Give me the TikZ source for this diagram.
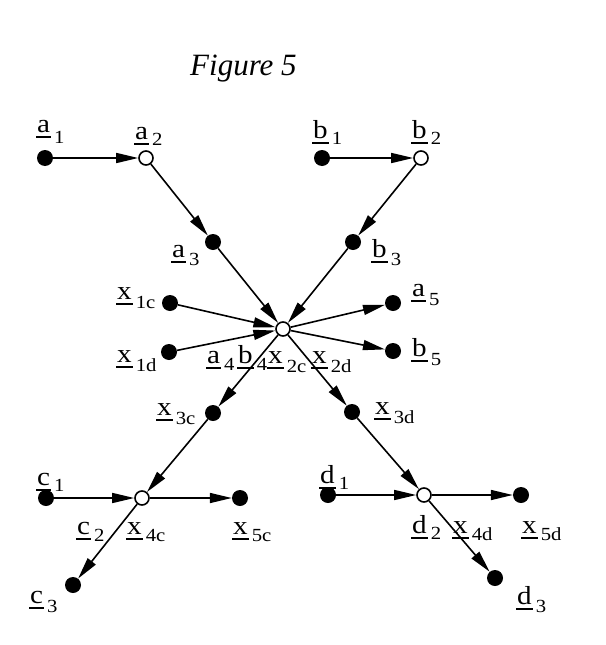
\documentclass[tikz,border=0pt]{standalone}
\usepackage{fontspec}
\setmainfont{Liberation Serif}
\newfontfamily\labfont[FakeStretch=1.12]{Liberation Serif}
\usetikzlibrary{arrows.meta}
\newsavebox\ulbox
\newcommand\ulx[1]{\sbox\ulbox{#1}\kern-1pt\rlap{\rule[-5.5pt]{\dimexpr\wd\ulbox+2pt\relax}{1.5pt}}\kern1pt\usebox\ulbox}
% \lbl[lowering]{letter}{subscript}
\newcommand\lbl[3][8pt]{\ulx{#2}\kern4pt\raisebox{-#1}{\fontsize{18.5}{19}\selectfont #3}}
\begin{document}
\begin{tikzpicture}[x=1pt,y=-1pt,
  dot/.style={circle, fill=black, inner sep=0pt, minimum size=16pt},
  hub/.style={circle, draw, fill=white, line width=1.6pt, inner sep=0pt, minimum size=14pt},
  arr/.style={line width=1.6pt, -{Triangle[length=22pt,width=10pt]}},
  lab/.style={anchor=base west, inner sep=0pt, font=\labfont\fontsize{26}{27}\selectfont}]
\useasboundingbox (0,0) rectangle (605,645);
\node[anchor=base west, inner sep=0pt, font=\fontsize{31}{32}\selectfont\itshape] (title) at (190,75) {Figure 5};
% nodes
\node[dot] (A1) at (45,158) {};
\node[hub] (A2) at (146,158) {};
\node[dot] (B1) at (322,158) {};
\node[hub] (B2) at (421,158) {};
\node[dot] (A3) at (213,242) {};
\node[dot] (B3) at (353,242) {};
\node[hub] (C) at (283,329) {};
\node[dot] (X1c) at (170,303) {};
\node[dot] (X1d) at (169,352) {};
\node[dot] (A5) at (393,303) {};
\node[dot] (B5) at (393,351) {};
\node[dot] (X3c) at (213,413) {};
\node[dot] (X3d) at (352,412) {};
\node[dot] (C1) at (46,498) {};
\node[hub] (Cn) at (142,498) {};
\node[dot] (X5c) at (240,498) {};
\node[dot] (C3) at (73,585) {};
\node[dot] (D1) at (328,495) {};
\node[hub] (Dn) at (424,495) {};
\node[dot] (X5d) at (521,495) {};
\node[dot] (D3) at (495,578) {};
% edges
\draw[arr] (A1) -- (A2);
\draw[arr] (A2) -- (A3);
\draw[arr] (A3) -- (C);
\draw[arr] (B1) -- (B2);
\draw[arr] (B2) -- (B3);
\draw[arr] (B3) -- (C);
\draw[arr] (X1c) -- (C);
\draw[arr] (X1d) -- (C);
\draw[arr] (C) -- (A5);
\draw[arr] (C) -- (B5);
\draw[arr] (C) -- (X3c);
\draw[arr] (X3c) -- (Cn);
\draw[arr] (C) -- (X3d);
\draw[arr] (X3d) -- (Dn);
\draw[arr] (C1) -- (Cn);
\draw[arr] (Cn) -- (X5c);
\draw[arr] (Cn) -- (C3);
\draw[arr] (D1) -- (Dn);
\draw[arr] (Dn) -- (X5d);
\draw[arr] (Dn) -- (D3);
% labels
\node[lab] (la1) at (37,132) {\lbl[11pt]{a}{1}};
\node[lab] (la2) at (135,139) {\lbl[6pt]{a}{2}};
\node[lab] (lb1) at (313,138) {\lbl[6pt]{b}{1}};
\node[lab] (lb2) at (412,138) {\lbl[6pt]{b}{2}};
\node[lab] (la3) at (172,257) {\lbl{a}{3}};
\node[lab] (lb3) at (372,257) {\lbl{b}{3}};
\node[lab] (lx1c) at (117,299) {\lbl[9pt]{x}{1c}};
\node[lab] (lx1d) at (117,362) {\lbl[9pt]{x}{1d}};
\node[lab] (la5) at (412,296) {\lbl[9pt]{a}{5}};
\node[lab] (lb5) at (412,356) {\lbl[9pt]{b}{5}};
\node[lab] (la4) at (207,363) {\lbl[7pt]{a}{4}};
\node[lab] (lb4) at (238,363) {\lbl[7pt]{b}{4}};
\node[lab] (lx2c) at (268,363) {\lbl[9pt]{x}{2c}};
\node[lab] (lx2d) at (312,363) {\lbl[9pt]{x}{2d}};
\node[lab] (lx3c) at (157,415) {\lbl[9pt]{x}{3c}};
\node[lab] (lx3d) at (375,414) {\lbl[9pt]{x}{3d}};
\node[lab] (lc1) at (37,485) {\lbl[6pt]{c}{1}};
\node[lab] (lc2) at (77,534) {\lbl[7pt]{c}{2}};
\node[lab] (lx4c) at (127,534) {\lbl[7pt]{x}{4c}};
\node[lab] (lx5c) at (233,534) {\lbl[7pt]{x}{5c}};
\node[lab] (lc3) at (30,603) {\lbl[9pt]{c}{3}};
\node[lab] (ld1) at (320,483) {\lbl[6pt]{d}{1}};
\node[lab] (ld2) at (412,533) {\lbl[6pt]{d}{2}};
\node[lab] (lx4d) at (453,533) {\lbl[7pt]{x}{4d}};
\node[lab] (lx5d) at (522,533) {\lbl[7pt]{x}{5d}};
\node[lab] (ld3) at (517,604) {\lbl[8pt]{d}{3}};
\end{tikzpicture}
\end{document}
